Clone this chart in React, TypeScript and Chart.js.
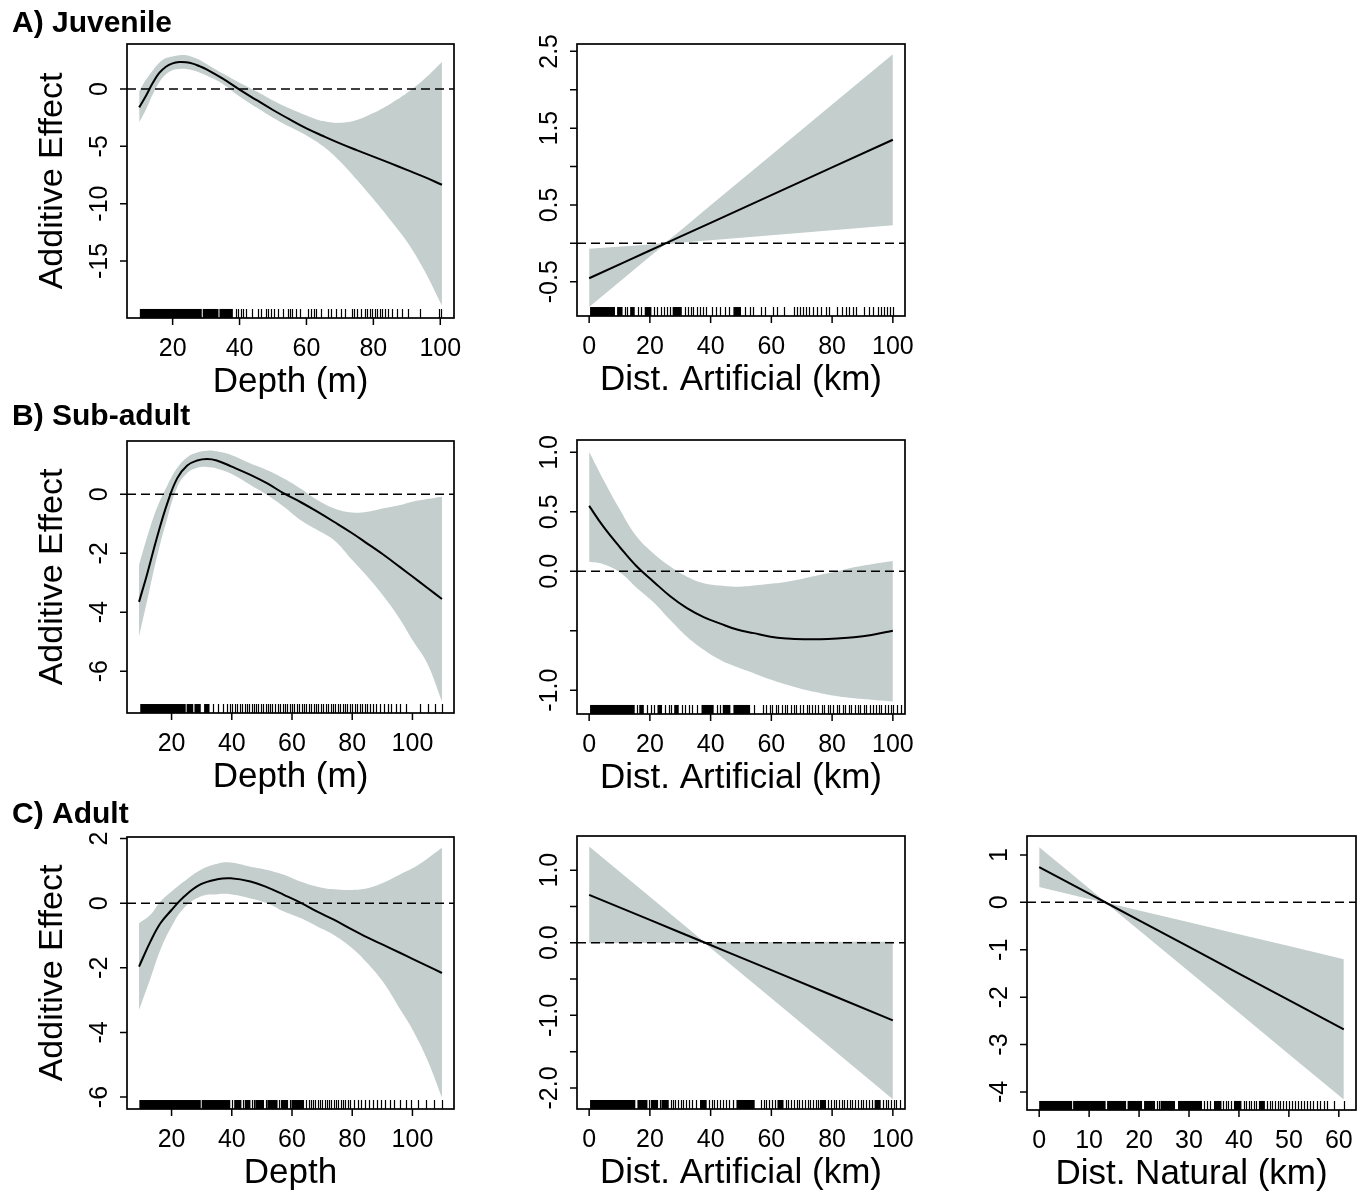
import React, { useEffect, useRef } from 'react';
import { Chart, registerables } from 'chart.js';

Chart.register(...registerables);

const FONT = '"Liberation Sans", Arial, Helvetica, sans-serif';
const BAND = 'rgb(195, 206, 205)';

// ---------- A) Juvenile : Depth ----------
const depthJuvX = [10, 12, 14, 16, 18, 20, 22, 24, 26, 28, 30, 35, 40, 45, 50, 55, 60, 65, 70, 75, 80, 85, 90, 95, 100.5];
const depthJuvFit = [-1.6, -0.6, 0.5, 1.4, 1.95, 2.24, 2.35, 2.33, 2.22, 2.0, 1.74, 0.9, -0.05, -0.95, -1.83, -2.65, -3.43, -4.1, -4.74, -5.33, -5.9, -6.47, -7.06, -7.65, -8.35];
const depthJuvUpper = [-0.2, 0.8, 1.6, 2.3, 2.7, 2.85, 2.95, 2.95, 2.8, 2.55, 2.2, 1.35, 0.55, -0.2, -1.0, -1.7, -2.3, -2.8, -2.95, -2.7, -2.1, -1.3, -0.35, 0.8, 2.35];
const depthJuvLower = [-2.9, -1.8, -0.5, 0.6, 1.3, 1.65, 1.75, 1.75, 1.65, 1.45, 1.2, 0.45, -0.65, -1.6, -2.5, -3.3, -4.05, -5.0, -6.3, -7.9, -9.6, -11.4, -13.3, -15.7, -18.9];
const depthJuvRugBlocks = [[10.2, 28.7], [29.0, 33.7], [34.0, 38.0]];
const depthJuvRugTicks = [38.8, 39.5, 40.3, 41.0, 41.8, 43.6, 45.5, 46.5, 47.8, 48.6, 49.4, 50.3, 51.6, 53.0, 54.4, 55.1, 55.8, 57.0, 58.2, 60.4, 61.3, 62.2, 63.0, 64.2, 66.5, 67.4, 68.8, 70.2, 71.5, 73.5, 74.2, 75.0, 76.3, 77.4, 78.1, 78.9, 79.6, 80.4, 81.2, 82.0, 82.7, 83.6, 84.5, 85.7, 87.2, 88.6, 90.3, 94.0, 99.6, 100.3];
const depthJuvXTicks = [20, 40, 60, 80, 100];
const depthJuvYTicks = [-15, -10, -5, 0];
const depthJuvYLabels = ['-15', '-10', '-5', '0'];

// ---------- A) Juvenile : Dist. Artificial ----------
const artJuvX = [0, 12, 20, 25, 30, 40, 60, 80, 100];
const artJuvFit = [-0.455, -0.239, -0.094, -0.004, 0.086, 0.267, 0.627, 0.988, 1.349];
const artJuvUpper = [-0.07, -0.04, -0.015, 0.006, 0.165, 0.494, 1.15, 1.807, 2.464];
const artJuvLower = [-0.83, -0.436, -0.173, -0.014, 0.007, 0.04, 0.104, 0.169, 0.234];
const artJuvRugBlocks = [[0.3, 8.5], [9.2, 11], [13.5, 15], [18.3, 20.5], [27.5, 30.5], [47.5, 50]];
const artJuvRugTicks = [11.8, 12.5, 16, 17.2, 21.5, 22.3, 23.5, 24.6, 25.5, 26.5, 31.4, 32.5, 33.4, 34.2, 35.5, 36.6, 37.5, 38.5, 40.5, 41.8, 43.2, 44.6, 46.0, 51.2, 53.0, 54.0, 56.5, 57.8, 60.5, 62.0, 64.0, 67.5, 68.6, 69.5, 70.5, 71.4, 72.5, 73.7, 75.0, 76.3, 78.0, 79.0, 81.5, 83.3, 84.5, 85.5, 86.8, 88.0, 90.5, 92.0, 93.5, 95.0, 96.2, 97.0, 98.0, 99.0, 100.0];
const artJuvXTicks = [0, 20, 40, 60, 80, 100];
const artJuvYTicks = [-0.5, 0, 0.5, 1, 1.5, 2, 2.5];
const artJuvYLabels = ['-0.5', '', '0.5', '', '1.5', '', '2.5'];

// ---------- B) Sub-adult : Depth ----------
const depthSubX = [9.2, 11.9, 15.2, 18.6, 21.9, 25.2, 28.5, 31.8, 35, 40, 46.2, 51.8, 57.3, 62.8, 68.4, 73.9, 80, 85, 90.5, 96, 100, 104.9, 109.8];
const depthSubFit = [-3.65, -2.7, -1.45, -0.3, 0.55, 0.98, 1.15, 1.2, 1.15, 0.94, 0.66, 0.37, 0.03, -0.26, -0.59, -0.93, -1.32, -1.67, -2.06, -2.48, -2.79, -3.17, -3.55];
const depthSubUpper = [-2.4, -1.45, -0.45, 0.3, 0.9, 1.26, 1.42, 1.48, 1.46, 1.33, 1.05, 0.82, 0.54, 0.2, -0.19, -0.47, -0.62, -0.59, -0.47, -0.36, -0.25, -0.16, -0.08];
const depthSubLower = [-4.82, -3.6, -2.1, -0.8, 0.25, 0.72, 0.9, 0.93, 0.88, 0.69, 0.32, -0.02, -0.42, -0.87, -1.21, -1.55, -2.23, -2.79, -3.47, -4.26, -4.94, -5.73, -7.03];
const depthSubRugBlocks = [[9.6, 24.7], [25.0, 27.2], [27.6, 29.7], [30.8, 32.6]];
const depthSubRugTicks = [33.8, 35.5, 37.2, 38.5, 39.5, 40.2, 41, 41.8, 42.6, 43.5, 44.3, 45, 45.8, 46.6, 47.4, 48, 48.8, 49.6, 50.5, 51.3, 52, 52.8, 53.5, 54.4, 55.2, 56, 56.9, 57.7, 58.5, 59.3, 60, 60.8, 61.6, 62.4, 63.2, 64, 64.8, 65.5, 66.4, 67.2, 68, 68.7, 69.5, 70.3, 71.2, 72, 72.8, 73.5, 74.3, 75.2, 76, 76.8, 77.5, 78.4, 79.2, 80, 80.8, 81.7, 82.5, 83.3, 84.2, 85, 86, 87, 88, 89.2, 90.5, 92, 93, 94.5, 96, 98, 102.5, 105, 107.5, 109.8];
const depthSubXTicks = [20, 40, 60, 80, 100];
const depthSubYTicks = [-6, -4, -2, 0];
const depthSubYLabels = ['-6', '-4', '-2', '0'];

// ---------- B) Sub-adult : Dist. Artificial ----------
const artSubX = [0, 4.7, 10.2, 15.7, 21.2, 26.7, 32.2, 37.7, 43.2, 48.7, 54.2, 59.7, 65.2, 70.7, 76.2, 81.7, 87.2, 93, 100];
const artSubFit = [0.55, 0.375, 0.2, 0.04, -0.087, -0.21, -0.31, -0.385, -0.44, -0.49, -0.52, -0.55, -0.565, -0.571, -0.571, -0.565, -0.555, -0.535, -0.5];
const artSubUpper = [1.006, 0.77, 0.515, 0.29, 0.15, 0.04, -0.045, -0.1, -0.12, -0.13, -0.12, -0.105, -0.087, -0.06, -0.03, 0.0, 0.034, 0.06, 0.087];
const artSubLower = [0.08, 0.06, -0.01, -0.14, -0.26, -0.41, -0.55, -0.66, -0.745, -0.805, -0.857, -0.91, -0.955, -0.995, -1.025, -1.05, -1.067, -1.08, -1.095];
const artSubRugBlocks = [[0.3, 15], [16.5, 18], [22.5, 24], [28, 29.5], [37, 41], [44, 46.5], [47.5, 53]];
const artSubRugTicks = [15.8, 19, 20.3, 21.5, 25, 26.3, 27, 30.5, 31.5, 33, 34, 35.5, 42, 43, 54.3, 57.2, 58.1, 59.4, 60.2, 61.5, 62.3, 63.6, 64.4, 65.3, 66.6, 67.4, 68.2, 69.5, 70.3, 71.6, 72.4, 73.3, 74.5, 75.2, 76.6, 77.3, 78.5, 79.2, 80.4, 81.6, 82.3, 83.5, 84.2, 85.4, 86.3, 87.6, 88.4, 89.2, 90.5, 91.3, 92.6, 93.4, 94.3, 95.5, 96.2, 97.4, 98.3, 99.5, 100.2, 101.4, 102.6];
const artSubXTicks = [0, 20, 40, 60, 80, 100];
const artSubYTicks = [-1, -0.5, 0, 0.5, 1];
const artSubYLabels = ['-1.0', '', '0.0', '0.5', '1.0'];

// ---------- C) Adult : Depth ----------
const depthAdX = [9.2, 13, 16.3, 20, 24.1, 29.6, 35.2, 39.6, 46.2, 51.8, 57.3, 62.8, 68.4, 73.9, 80, 85, 90.5, 96, 100, 104.9, 109.8];
const depthAdFit = [-1.96, -1.18, -0.62, -0.21, 0.2, 0.58, 0.74, 0.77, 0.67, 0.49, 0.26, 0.02, -0.26, -0.51, -0.82, -1.06, -1.3, -1.54, -1.72, -1.94, -2.16];
const depthAdUpper = [-0.62, -0.36, 0.05, 0.36, 0.67, 1.03, 1.22, 1.26, 1.13, 1.03, 0.88, 0.67, 0.51, 0.43, 0.41, 0.46, 0.64, 0.9, 1.08, 1.38, 1.72];
const depthAdLower = [-3.3, -2.32, -1.44, -0.72, -0.15, 0.21, 0.28, 0.28, 0.15, 0.0, -0.26, -0.46, -0.72, -0.98, -1.39, -1.85, -2.47, -3.3, -3.91, -4.84, -6.02];
const depthAdRugBlocks = [[9.3, 29.7], [30.0, 39.5], [40.8, 43.2], [44.3, 46.2], [47.8, 50.7], [51.8, 55.2], [56.3, 58.7], [59.8, 64]];
const depthAdRugTicks = [40.2, 43.7, 46.8, 47.4, 51.3, 55.7, 59.2, 64.8, 65.5, 66.2, 67, 67.8, 68.5, 69.3, 70, 70.8, 71.6, 72.3, 73.1, 73.9, 74.6, 75.4, 76.2, 77, 77.7, 78.5, 79.3, 80.5, 81.8, 83, 84.2, 85.5, 87, 88.3, 89.5, 91, 92.5, 94, 96, 98, 99.5, 102, 104.5, 107, 109.8];
const depthAdXTicks = [20, 40, 60, 80, 100];
const depthAdYTicks = [-6, -4, -2, 0, 2];
const depthAdYLabels = ['-6', '-4', '-2', '0', '2'];

// ---------- C) Adult : Dist. Artificial ----------
const artAdX = [0, 20, 30, 38, 45, 60, 80, 100];
const artAdFit = [0.66, 0.314, 0.141, 0.003, -0.119, -0.378, -0.724, -1.07];
const artAdUpper = [1.326, 0.632, 0.285, 0.008, 0.008, 0.01, 0.012, 0.014];
const artAdLower = [-0.006, -0.004, -0.003, -0.002, -0.246, -0.766, -1.46, -2.154];
const artAdRugBlocks = [[0.3, 15.2], [15.9, 19.2], [20.3, 22.7], [23.8, 26.2], [36.5, 38.7], [48.5, 54.5], [62, 64], [76, 78], [94, 96]];
const artAdRugTicks = [19.7, 23.2, 26.8, 27.6, 28.4, 29.3, 30.2, 31, 32, 33, 34, 35.2, 39.4, 40.3, 41.2, 42, 43, 44, 45, 46.2, 47.3, 56.5, 57.5, 58.3, 59.2, 60.3, 61.2, 64.8, 65.6, 66.5, 67.4, 68.3, 69.2, 70, 71, 72, 72.8, 73.7, 74.6, 75.4, 78.8, 79.6, 80.5, 81.4, 82.3, 83.2, 84, 84.9, 85.8, 86.7, 87.6, 88.5, 89.4, 90.3, 91.2, 92.1, 93, 96.8, 97.6, 98.5, 99.4, 100.3, 101.2, 102.2];
const artAdXTicks = [0, 20, 40, 60, 80, 100];
const artAdYTicks = [-2, -1.5, -1, -0.5, 0, 0.5, 1];
const artAdYLabels = ['-2.0', '', '-1.0', '', '0.0', '', '1.0'];

// ---------- C) Adult : Dist. Natural ----------
const natAdX = [0, 5, 10, 13.4, 20, 30, 40, 50, 61];
const natAdFit = [0.744, 0.463, 0.183, -0.008, -0.379, -0.94, -1.501, -2.063, -2.68];
const natAdUpper = [1.164, 0.728, 0.293, -0.003, -0.169, -0.42, -0.671, -0.923, -1.199];
const natAdLower = [0.324, 0.198, 0.073, -0.013, -0.589, -1.46, -2.331, -3.203, -4.161];
const natAdRugBlocks = [[0, 6.6], [6.8, 13.3], [13.6, 17.4], [17.7, 20.6], [21, 23.2], [24.3, 27.2], [27.8, 32.6], [35, 36.5], [39, 40.5], [44, 45.2]];
const natAdRugTicks = [23.6, 24, 33, 33.6, 34.2, 36.9, 37.4, 37.9, 38.4, 41, 41.5, 42, 42.5, 43, 43.5, 45.7, 46.2, 46.7, 47.2, 47.8, 48.3, 48.8, 49.4, 50, 50.6, 51.2, 51.8, 52.4, 53, 53.6, 54.2, 54.9, 55.6, 56.3, 57, 57.6, 59, 61];
const natAdXTicks = [0, 10, 20, 30, 40, 50, 60];
const natAdYTicks = [-4, -3, -2, -1, 0, 1];
const natAdYLabels = ['-4', '-3', '-2', '-1', '0', '1'];

const rowTitles = ['A) Juvenile', 'B) Sub-adult', 'C) Adult'];

type Panel = {
  cell: [number, number, number, number]; // left, top, width, height
  box: [number, number, number, number]; // left, top, right, bottom (page px)
  xRange: [number, number];
  yRange: [number, number];
  x: number[]; fit: number[]; upper: number[]; lower: number[];
  rugBlocks: number[][]; rugTicks: number[];
  xTicks: number[]; yTicks: number[]; yLabels: string[];
  xTitle: string; yTitle?: string; tension: number;
  rowTitle?: string; rowTitleBaseline?: number;
};

const panels: Panel[] = [
  { cell: [0, 0, 470, 400], box: [127, 44, 454, 318], xRange: [6.36, 104.1], yRange: [-19.98, 3.93],
    x: depthJuvX, fit: depthJuvFit, upper: depthJuvUpper, lower: depthJuvLower, tension: 0.4,
    rugBlocks: depthJuvRugBlocks, rugTicks: depthJuvRugTicks, xTicks: depthJuvXTicks, yTicks: depthJuvYTicks, yLabels: depthJuvYLabels,
    xTitle: 'Depth (m)', yTitle: 'Additive Effect', rowTitle: rowTitles[0], rowTitleBaseline: 32 },
  { cell: [470, 0, 470, 400], box: [577, 44, 905, 316], xRange: [-4, 104], yRange: [-0.947, 2.596],
    x: artJuvX, fit: artJuvFit, upper: artJuvUpper, lower: artJuvLower, tension: 0,
    rugBlocks: artJuvRugBlocks, rugTicks: artJuvRugTicks, xTicks: artJuvXTicks, yTicks: artJuvYTicks, yLabels: artJuvYLabels,
    xTitle: 'Dist. Artificial (km)' },
  { cell: [0, 400, 470, 395], box: [127, 441, 454, 713], xRange: [5.2, 113.8], yRange: [-7.42, 1.81],
    x: depthSubX, fit: depthSubFit, upper: depthSubUpper, lower: depthSubLower, tension: 0.4,
    rugBlocks: depthSubRugBlocks, rugTicks: depthSubRugTicks, xTicks: depthSubXTicks, yTicks: depthSubYTicks, yLabels: depthSubYLabels,
    xTitle: 'Depth (m)', yTitle: 'Additive Effect', rowTitle: rowTitles[1], rowTitleBaseline: 425 },
  { cell: [470, 400, 470, 395], box: [577, 440, 905, 714], xRange: [-4, 104], yRange: [-1.2, 1.104],
    x: artSubX, fit: artSubFit, upper: artSubUpper, lower: artSubLower, tension: 0.4,
    rugBlocks: artSubRugBlocks, rugTicks: artSubRugTicks, xTicks: artSubXTicks, yTicks: artSubYTicks, yLabels: artSubYLabels,
    xTitle: 'Dist. Artificial (km)' },
  { cell: [0, 795, 470, 398], box: [127, 837, 454, 1109], xRange: [5.2, 113.8], yRange: [-6.37, 2.05],
    x: depthAdX, fit: depthAdFit, upper: depthAdUpper, lower: depthAdLower, tension: 0.4,
    rugBlocks: depthAdRugBlocks, rugTicks: depthAdRugTicks, xTicks: depthAdXTicks, yTicks: depthAdYTicks, yLabels: depthAdYLabels,
    xTitle: 'Depth', yTitle: 'Additive Effect', rowTitle: rowTitles[2], rowTitleBaseline: 823 },
  { cell: [470, 795, 470, 398], box: [577, 836, 905, 1109], xRange: [-4, 104], yRange: [-2.29, 1.47],
    x: artAdX, fit: artAdFit, upper: artAdUpper, lower: artAdLower, tension: 0,
    rugBlocks: artAdRugBlocks, rugTicks: artAdRugTicks, xTicks: artAdXTicks, yTicks: artAdYTicks, yLabels: artAdYLabels,
    xTitle: 'Dist. Artificial (km)' },
  { cell: [940, 795, 424, 398], box: [1027, 836, 1356, 1110], xRange: [-2.44, 63.44], yRange: [-4.38, 1.4],
    x: natAdX, fit: natAdFit, upper: natAdUpper, lower: natAdLower, tension: 0,
    rugBlocks: natAdRugBlocks, rugTicks: natAdRugTicks, xTicks: natAdXTicks, yTicks: natAdYTicks, yLabels: natAdYLabels,
    xTitle: 'Dist. Natural (km)' },
];

const zip = (xs: number[], ys: number[]) => xs.map((x, i) => ({ x, y: ys[i] }));

function makeAxesPlugin(p: Panel) {
  return {
    id: 'rStyleAxes',
    afterDraw(chart: any) {
      const ctx: CanvasRenderingContext2D = chart.ctx;
      const xs = chart.scales.x;
      const ys = chart.scales.y;
      const a = chart.chartArea;
      ctx.save();
      // rug
      const rugH = 0.033 * (a.bottom - a.top);
      ctx.fillStyle = '#000';
      p.rugBlocks.forEach(([s, e]) => {
        const x1 = xs.getPixelForValue(s);
        const x2 = xs.getPixelForValue(e);
        ctx.fillRect(x1, a.bottom - rugH, x2 - x1, rugH);
      });
      ctx.strokeStyle = '#000';
      ctx.lineWidth = 1.2;
      ctx.beginPath();
      p.rugTicks.forEach((v) => {
        const px = Math.round(xs.getPixelForValue(v)) + 0.5;
        ctx.moveTo(px, a.bottom);
        ctx.lineTo(px, a.bottom - rugH);
      });
      ctx.stroke();
      // box
      ctx.strokeStyle = '#000';
      ctx.lineWidth = 1.7;
      ctx.strokeRect(a.left, a.top, a.right - a.left, a.bottom - a.top);
      // ticks
      ctx.lineWidth = 1.5;
      ctx.beginPath();
      p.xTicks.forEach((v) => {
        const px = xs.getPixelForValue(v);
        ctx.moveTo(px, a.bottom);
        ctx.lineTo(px, a.bottom + 7);
      });
      p.yTicks.forEach((v) => {
        const py = ys.getPixelForValue(v);
        ctx.moveTo(a.left, py);
        ctx.lineTo(a.left - 7, py);
      });
      ctx.stroke();
      ctx.fillStyle = '#000';
      ctx.font = `25px ${FONT}`;
      ctx.textAlign = 'center';
      ctx.textBaseline = 'alphabetic';
      p.xTicks.forEach((v) => {
        ctx.fillText(String(v), xs.getPixelForValue(v), a.bottom + 38);
      });
      p.yTicks.forEach((v, i) => {
        const lab = p.yLabels[i];
        if (!lab) return;
        ctx.save();
        ctx.translate(a.left - 20.5, ys.getPixelForValue(v));
        ctx.rotate(-Math.PI / 2);
        ctx.fillText(lab, 0, 0);
        ctx.restore();
      });
      ctx.font = `35px ${FONT}`;
      ctx.fillText(p.xTitle, (a.left + a.right) / 2, a.bottom + 74);
      if (p.yTitle) {
        ctx.save();
        ctx.font = `34px ${FONT}`;
        ctx.translate(a.left - 65, (a.top + a.bottom) / 2);
        ctx.rotate(-Math.PI / 2);
        ctx.fillText(p.yTitle, 0, 0);
        ctx.restore();
      }
      if (p.rowTitle) {
        ctx.font = `bold 30px ${FONT}`;
        ctx.textAlign = 'left';
        ctx.fillText(p.rowTitle, 12 - p.cell[0], (p.rowTitleBaseline as number) - p.cell[1]);
      }
      ctx.restore();
    },
  };
}

function PanelChart({ p }: { p: Panel }) {
  const ref = useRef<HTMLCanvasElement>(null);
  useEffect(() => {
    const [cl, ct, cw, ch] = p.cell;
    const [bl, bt, br, bb] = p.box;
    const chart = new Chart(ref.current as HTMLCanvasElement, {
      type: 'line',
      data: {
        datasets: [
          { data: zip(p.x, p.upper), borderColor: 'rgba(0,0,0,0)', borderWidth: 0, pointRadius: 0, fill: false, tension: p.tension, order: 3 },
          { data: zip(p.x, p.lower), borderColor: 'rgba(0,0,0,0)', borderWidth: 0, pointRadius: 0, fill: '-1', backgroundColor: BAND, tension: p.tension, order: 2 },
          { data: zip(p.x, p.fit), borderColor: '#000', borderWidth: 2, pointRadius: 0, fill: false, tension: p.tension, order: 1 },
          { data: [{ x: p.xRange[0], y: 0 }, { x: p.xRange[1], y: 0 }], borderColor: '#000', borderWidth: 1.5, borderDash: [9, 5], pointRadius: 0, fill: false, order: 0 },
        ] as any,
      },
      options: {
        responsive: false,
        animation: false,
        events: [],
        layout: { padding: { left: bl - cl, top: bt - ct, right: cl + cw - br, bottom: ct + ch - bb } },
        scales: {
          x: { type: 'linear', min: p.xRange[0], max: p.xRange[1], display: false },
          y: { type: 'linear', min: p.yRange[0], max: p.yRange[1], display: false },
        },
        plugins: { legend: { display: false }, tooltip: { enabled: false } },
      },
      plugins: [makeAxesPlugin(p)],
    });
    return () => chart.destroy();
  }, [p]);
  const [cl, ct, cw, ch] = p.cell;
  return (
    <canvas
      ref={ref}
      width={cw}
      height={ch}
      style={{ position: 'absolute', left: cl, top: ct, width: cw, height: ch }}
    />
  );
}

export default function App() {
  return (
    <div style={{ position: 'absolute', left: 0, top: 0, width: 1364, height: 1193, background: '#fff', overflow: 'hidden' }}>
      {panels.map((p, i) => (
        <PanelChart key={i} p={p} />
      ))}
    </div>
  );
}
